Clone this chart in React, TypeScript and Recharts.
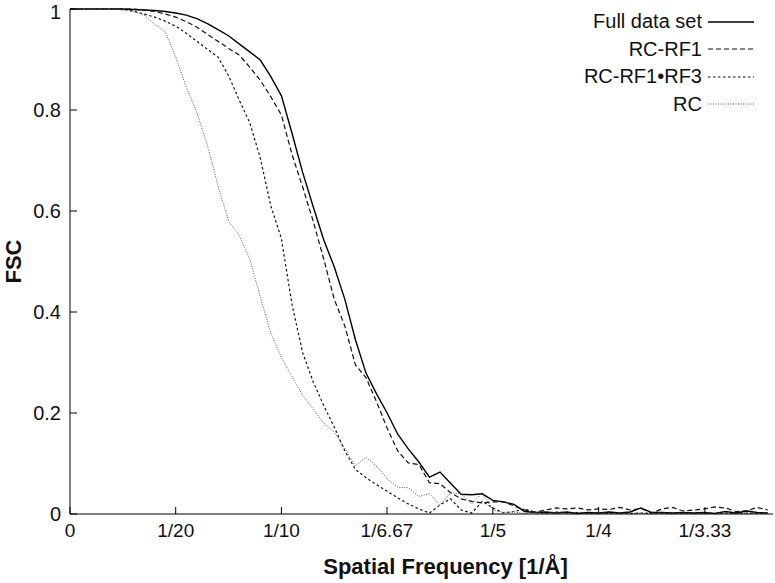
import { Label, Line, LineChart, XAxis, YAxis } from "recharts";

const freqs = [
  0, 0.005, 0.01, 0.015, 0.02, 0.025, 0.03, 0.035, 0.04, 0.045,
  0.05, 0.055, 0.06, 0.065, 0.07, 0.075, 0.08, 0.085, 0.09, 0.095,
  0.1, 0.105, 0.11, 0.115, 0.12, 0.125, 0.13, 0.135, 0.14, 0.145,
  0.15, 0.155, 0.16, 0.165, 0.17, 0.175, 0.18, 0.185, 0.19, 0.195,
  0.2, 0.205, 0.21, 0.215, 0.22, 0.225, 0.23, 0.235, 0.24, 0.245,
  0.25, 0.255, 0.26, 0.265, 0.27, 0.275, 0.28, 0.285, 0.29, 0.295,
  0.3, 0.305, 0.31, 0.315, 0.32, 0.325, 0.33,
];

const fullSet = [
  1, 1, 1, 1, 1, 1, 0.999, 0.998, 0.997, 0.995,
  0.992, 0.988, 0.981, 0.971, 0.959, 0.947, 0.931, 0.915, 0.899, 0.866,
  0.828, 0.754, 0.677, 0.609, 0.543, 0.489, 0.425, 0.345, 0.279, 0.238,
  0.2, 0.158, 0.129, 0.103, 0.073, 0.083, 0.061, 0.039, 0.038, 0.04,
  0.027, 0.024, 0.019, 0.005, 0.003, 0.004, 0.002, 0.004, 0.001, 0.003,
  0.002, 0.004, 0.002, 0.004, 0.012, 0.003, 0.003, 0.002, 0.003, 0.002,
  0.003, 0.001, 0.005, 0.002, 0.006, 0.003, 0.002,
];

const rcRf1 = [
  1, 1, 1, 1, 1, 1, 1, 0.998, 0.995, 0.99,
  0.984, 0.975, 0.964, 0.95, 0.936, 0.922, 0.909, 0.885, 0.859, 0.826,
  0.79, 0.712, 0.648, 0.58, 0.505, 0.425, 0.372, 0.295, 0.27, 0.222,
  0.17, 0.125, 0.101, 0.098, 0.062, 0.06, 0.042, 0.03, 0.025, 0.022,
  0.024, 0.024, 0.016, 0.008, 0.004, 0.008, 0.012, 0.01, 0.012, 0.008,
  0.01, 0.009, 0.013, 0.008, 0.011, 0.002, 0.01, 0.013, 0.006, 0.008,
  0.01, 0.014, 0.012, 0.005, 0.006, 0.013, 0.008,
];

const rcRf1Rf3 = [
  1, 1, 1, 1, 1, 1, 0.996, 0.99, 0.984, 0.976,
  0.966, 0.952, 0.936, 0.92, 0.905, 0.868, 0.82, 0.775, 0.705, 0.61,
  0.545, 0.415, 0.32, 0.262, 0.215, 0.172, 0.125, 0.088, 0.072, 0.058,
  0.045, 0.032, 0.02, 0.01, 0.002, 0.018, 0.03, 0.008, 0.002, 0.025,
  0.012, 0.002, 0.005, 0.01, 0.003, 0.001, 0.004, 0.002, 0.003, 0.001,
  0.002, 0.001, 0.002, 0.001, 0.002, 0.001, 0.002, 0.001, 0.002, 0.001,
  0.002, 0.001, 0.002, 0.001, 0.002, 0.001, 0.002,
];

const rcOnly = [
  1, 1, 1, 1, 1, 0.998, 0.995, 0.988, 0.97, 0.955,
  0.905, 0.845, 0.795, 0.73, 0.65, 0.58, 0.552, 0.505, 0.43, 0.358,
  0.31, 0.272, 0.235, 0.208, 0.18, 0.162, 0.13, 0.095, 0.112, 0.095,
  0.07, 0.053, 0.052, 0.035, 0.04, 0.018, 0.042, 0.04, 0.02, 0.042,
  0.008, 0.003, 0.004, 0.001, 0.003, 0.001, 0.002, 0.001, 0.002, 0.001,
  0.002, 0.001, 0.002, 0.001, 0.002, 0.001, 0.002, 0.001, 0.002, 0.001,
  0.002, 0.001, 0.002, 0.001, 0.002, 0.001, 0.002,
];

const xTickValues = [0, 1 / 20, 1 / 10, 1 / 6.67, 1 / 5, 1 / 4, 1 / 3.33];
const xTickLabels = ["0", "1/20", "1/10", "1/6.67", "1/5", "1/4", "1/3.33"];
const yTickValues = [0, 0.2, 0.4, 0.6, 0.8, 1];

const seriesNames = ["Full data set", "RC-RF1", "RC-RF1\u2022RF3", "RC"];

const data = freqs.map((f, i) => ({
  f,
  full: fullSet[i],
  rf1: rcRf1[i],
  rf13: rcRf1Rf3[i],
  rc: rcOnly[i],
}));

const font = "'Liberation Sans', Arial, Helvetica, sans-serif";

const lineStyles = [
  { key: "full", stroke: "#000", width: 1.4, dash: undefined },
  { key: "rf1", stroke: "#111", width: 1.2, dash: "5 3" },
  { key: "rf13", stroke: "#111", width: 1.2, dash: "2.5 2.5" },
  { key: "rc", stroke: "#555", width: 1, dash: "1 1.5" },
];

// legend sits inside the plot, top right, like the original
const LegendBox = () => (
  <div style={ { position: "absolute", top: 8, right: 21, fontFamily: font, fontSize: 20, color: "#111" } }>
    { seriesNames.map((name, i) => (
      <div key={ name } style={ { display: "flex", justifyContent: "flex-end", alignItems: "center", height: 27.5 } }>
        <span style={ { marginRight: 6 } }>{ name }</span>
        <svg width={ 46 } height={ 6 }>
          <line x1={ 0 } y1={ 3 } x2={ 46 } y2={ 3 } stroke={ lineStyles[i].stroke }
            strokeWidth={ lineStyles[i].width } strokeDasharray={ lineStyles[i].dash }/>
        </svg>
      </div>
    )) }
  </div>
);

export default function App() {
  return (
    <div style={ { position: "absolute", left: 0, top: 0, width: 775, height: 583, background: "#fff" } }>
      <LineChart
        width={ 775 }
        height={ 583 }
        data={ data }
        margin={ { top: 9, right: 2, left: 0, bottom: 0 } }
      >
        <XAxis
          dataKey="f"
          type="number"
          domain={ [0, 0.3325] }
          ticks={ xTickValues }
          tickFormatter={ (v: number) => xTickLabels[xTickValues.indexOf(v)] ?? "" }
          height={ 69 }
          tickSize={ -7 }
          tickMargin={ 17 }
          stroke="#000"
          tick={ { fill: "#111", fontSize: 19, fontFamily: font } }
          allowDataOverflow
        >
          <Label
            content={ ({ viewBox }: any) => (
              <text x={ viewBox.x + viewBox.width / 2 + 24 } y={ 574 } textAnchor="middle"
                fontFamily={ font } fontSize={ 22 } fontWeight="bold" fill="#111">
                Spatial Frequency [1/Å]
              </text>
            ) }
          />
        </XAxis>
        <YAxis
          type="number"
          domain={ [0, 1] }
          ticks={ yTickValues }
          width={ 70 }
          tickSize={ -7 }
          tickMargin={ 16 }
          stroke="#000"
          tick={ { fill: "#111", fontSize: 20, fontFamily: font } }
        >
          <Label
            content={ ({ viewBox }: any) => (
              <text x={ 21 } y={ viewBox.y + viewBox.height / 2 } textAnchor="middle"
                transform={ `rotate(-90 21 ${ viewBox.y + viewBox.height / 2 })` }
                fontFamily={ font } fontSize={ 22 } fontWeight="bold" fill="#111">
                FSC
              </text>
            ) }
          />
        </YAxis>
        { lineStyles.map((s, i) => (
          <Line
            key={ s.key }
            name={ seriesNames[i] }
            dataKey={ s.key }
            type="linear"
            stroke={ s.stroke }
            strokeWidth={ s.width }
            strokeDasharray={ s.dash }
            dot={ false }
            isAnimationActive={ false }
          />
        )) }
      </LineChart>
      <LegendBox/>
    </div>
  );
}
